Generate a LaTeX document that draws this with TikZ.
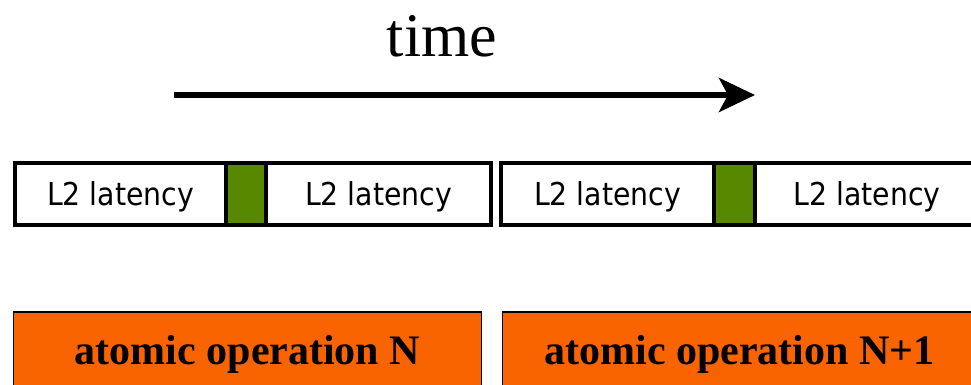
\documentclass[tikz,border=0pt]{standalone}
\usepackage{fontspec}
\setmainfont{Liberation Serif}
\newfontfamily\latfont[FakeStretch=0.9]{DejaVu Sans}
\usetikzlibrary{arrows.meta}
\definecolor{opgreen}{RGB}{86,136,0}
\definecolor{oporange}{RGB}{250,100,0}
\begin{document}
\begin{tikzpicture}[x=1pt,y=-1pt,
  seg/.style={draw=black, line width=4pt, minimum height=62pt, inner sep=0pt, outer sep=0pt},
  lat/.style={seg, fill=white, text height=23pt, text depth=0pt,
              font=\latfont\fontsize{31.5}{31.5}\selectfont},
  hit/.style={seg, fill=opgreen},
  op/.style={draw=black, line width=1.5pt, fill=oporange, minimum height=84pt, inner sep=0pt,
             outer sep=0pt, font=\bfseries\fontsize{42}{42}\selectfont},
  timeline/.style={line width=6pt, -{Stealth[length=36pt,width=34pt,inset=9pt]}},
]
\useasboundingbox (0,0) rectangle (971,385);

% time axis
\node[font=\fontsize{62}{62}\selectfont, inner sep=0pt] (time) at (442,36) {time};
\coordinate (ts) at (174,95);
\coordinate (te) at (755,95);
\draw[timeline] (ts) -- (te);

% memory accesses of operation N
\node[lat, minimum width=211pt] (l1) at (120.5,194) {L2 latency};
\node[hit, minimum width=40pt]  (g1) at (246,194) {};
\node[lat, minimum width=225pt] (l2) at (378.5,194) {L2 latency};

% memory accesses of operation N+1
\node[lat, minimum width=213pt] (l3) at (607.5,194) {L2 latency};
\node[hit, minimum width=41pt]  (g2) at (734.5,194) {};
\node[lat, minimum width=224pt] (l4) at (867,194) {L2 latency};

% atomic operations
\node[op, minimum width=468pt] (opN)  at (247.5,354) {atomic operation N};
\node[op, minimum width=474pt] (opN1) at (739.5,354) {atomic operation N+1};
\end{tikzpicture}
\end{document}
